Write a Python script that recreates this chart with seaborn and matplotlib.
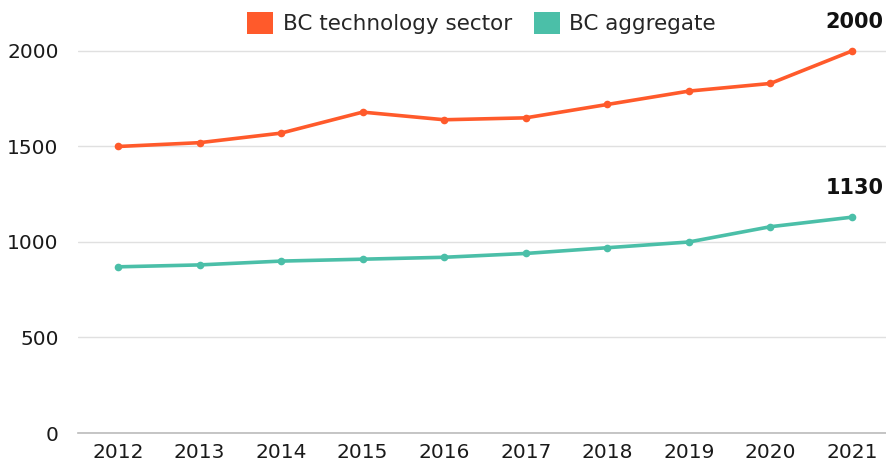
import matplotlib
matplotlib.use("Agg")
import matplotlib.pyplot as plt
import seaborn as sns
import pandas as pd
from matplotlib.patches import Patch

years = ["2012", "2013", "2014", "2015", "2016", "2017", "2018", "2019", "2020", "2021"]
tech_sector = [1500, 1520, 1570, 1680, 1640, 1650, 1720, 1790, 1830, 2000]
bc_aggregate = [870, 880, 900, 910, 920, 940, 970, 1000, 1080, 1130]
series_names = ["BC technology sector", "BC aggregate"]
colors = ["#FF5A2B", "#4BBFA8"]

df = pd.concat([
    pd.DataFrame({"year": years, "value": tech_sector, "series": series_names[0], "x": range(len(years))}),
    pd.DataFrame({"year": years, "value": bc_aggregate, "series": series_names[1], "x": range(len(years))}),
])

sns.set_theme(style="white")
plt.rcParams["font.family"] = ["DejaVu Sans"]

fig = plt.figure(figsize=(8.87, 4.65), dpi=100)
ax = fig.add_axes([78 / 887, 32 / 465, 1 - 78 / 887, 1 - 32 / 465])

sns.lineplot(data=df, x="x", y="value", hue="series", palette=colors,
             marker="o", markersize=5.5, markeredgewidth=0, linewidth=2.6,
             ax=ax, legend=False)

ax.set_xlim(-0.49, 9.43)
ax.set_ylim(0, 2267)
ax.set_xticks(range(len(years)))
ax.set_xticklabels(years)
ax.set_yticks([0, 500, 1000, 1500, 2000])
ax.tick_params(axis="both", labelsize=14.5, length=0, colors="#1A1A1A")
ax.tick_params(axis="x", pad=7)
ax.tick_params(axis="y", pad=14)
ax.set_xlabel("")
ax.set_ylabel("")
ax.grid(axis="y", color="#E0E0E0", linewidth=1)
for s in ["top", "right", "left"]:
    ax.spines[s].set_visible(False)
ax.spines["bottom"].set_color("#BBBBBB")
ax.spines["bottom"].set_linewidth(1.2)

for vals in (tech_sector, bc_aggregate):
    ax.annotate(str(vals[-1]), (len(years) - 1, vals[-1]), xytext=(2, 14),
                textcoords="offset points", ha="center", va="bottom",
                fontsize=15, fontweight="bold", color="#111111")

handles = [Patch(facecolor=c, edgecolor="none") for c in colors]
fig.legend(handles, series_names, loc="center", bbox_to_anchor=(0.543, 0.951),
           ncol=2, frameon=False, fontsize=15.5, handlelength=1.2, handleheight=1.2,
           handletextpad=0.45, columnspacing=1.0)

fig.savefig("out.png", dpi=100)
